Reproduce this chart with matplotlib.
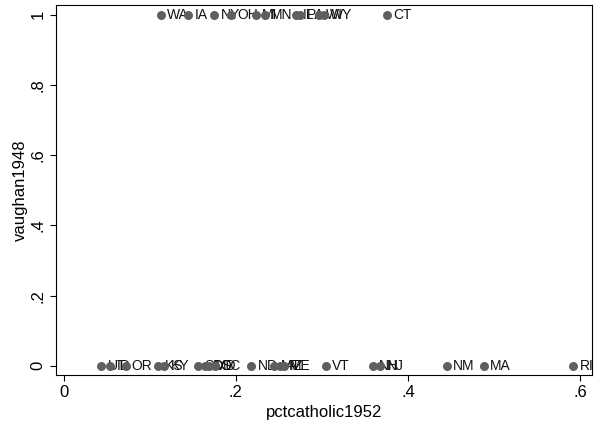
import numpy as np
import matplotlib
matplotlib.use("Agg")
from matplotlib import pyplot as plt
from matplotlib.ticker import FixedLocator

# states with vaughan1948 == 1
top_states = ['WA', 'IA', 'NY', 'OH', 'MI', 'MN', 'IL', 'PA', 'WI', 'WY', 'CT']
top_pct = [0.113, 0.145, 0.175, 0.195, 0.223, 0.234, 0.270, 0.275, 0.297, 0.302, 0.376]

# states with vaughan1948 == 0
bot_states = ['UT', 'ID', 'OR', 'KS', 'KY', 'SD', 'CO', 'MD', 'SC', 'ND',
              'MT', 'AZ', 'ME', 'VT', 'NH', 'NJ', 'NM', 'MA', 'RI']
bot_pct = [0.044, 0.054, 0.072, 0.110, 0.117, 0.156, 0.164, 0.169, 0.176, 0.218,
           0.245, 0.251, 0.256, 0.305, 0.359, 0.368, 0.445, 0.488, 0.592]

xticks = [0, 0.2, 0.4, 0.6]
xticklabels = ['0', '.2', '.4', '.6']
yticks = [0, 0.2, 0.4, 0.6, 0.8, 1.0]
yticklabels = ['0', '.2', '.4', '.6', '.8', '1']

plt.rcParams['font.family'] = ['Liberation Sans', 'DejaVu Sans']

fig = plt.figure(figsize=(6, 4.24), dpi=100)
ax = fig.add_axes([0.093, 0.1156, 0.894, 0.8726])

x = np.array(top_pct + bot_pct)
y = np.array([1] * len(top_pct) + [0] * len(bot_pct))
names = top_states + bot_states

ax.scatter(x, y, s=42, color='#5f5f5f', zorder=3, linewidths=0)
for xi, yi, nm in zip(x, y, names):
    ax.annotate(nm, (xi, yi), xytext=(4.5, 0), textcoords='offset points',
                va='center', ha='left', fontsize=10, color='#111111', zorder=2)

ax.set_xlim(-0.009, 0.614)
ax.set_ylim(-0.026, 1.028)
ax.xaxis.set_major_locator(FixedLocator(xticks))
ax.set_xticklabels(xticklabels)
ax.yaxis.set_major_locator(FixedLocator(yticks))
ax.set_yticklabels(yticklabels, rotation=90, va='center')
ax.tick_params(direction='out', length=4.5, width=0.8, labelsize=12,
               colors='black', pad=3)
ax.set_xlabel('pctcatholic1952', fontsize=12, labelpad=3)
ax.set_ylabel('vaughan1948', fontsize=12, labelpad=2)
for sp in ax.spines.values():
    sp.set_linewidth(0.8)

fig.savefig('out.png', dpi=100)
